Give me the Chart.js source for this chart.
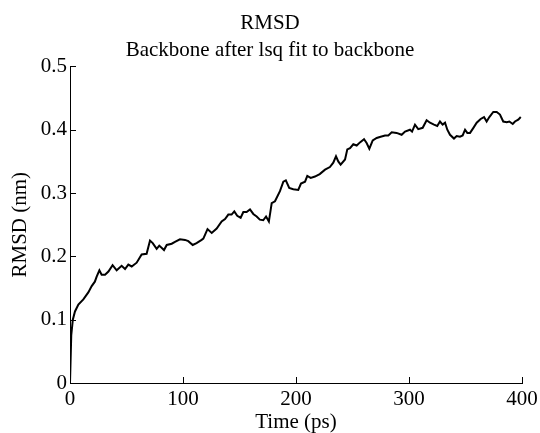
<!DOCTYPE html>
<html>
<head>
<meta charset="utf-8">
<script src="https://cdn.jsdelivr.net/npm/chart.js@4"></script>
<style>
    html, body { margin: 0; padding: 0; background: #fff; }
    #wrap { width: 540px; height: 433px; }
</style>
</head>
<body>
<div id="wrap"><canvas id="rmsdChart"></canvas></div>
<script>
// Datos: tiempo (ps) y RMSD (nm)
const times = [0, 1.1, 2.5, 4.4, 7.4, 11.8, 16.2, 19.2, 22, 23.6, 26, 28, 31, 34, 37.7, 41.3, 45.7, 48.7, 51.6, 54.6,
    59, 63.4, 67.8, 70.8, 73.2, 76.7, 79, 83.2, 85.6, 90, 92.9, 97.3, 101.8, 104.7, 108.6, 112, 116.5, 118, 121.7, 125.4,
    129.8, 134.2, 137.2, 140.1, 143, 145.4, 148, 151, 153.4, 156.3, 159.3, 162.2, 165.2, 168, 171, 173.5, 176, 178.5, 181.4, 185.8,
    188.8, 191, 194, 197.6, 202, 204.4, 208, 210, 213, 216.8, 221, 225.7, 230, 233, 235.4, 237.4, 239.5, 243.4, 245.4, 247.8,
    250.7, 253.7, 256.6, 260.2, 262.5, 264.9, 267.9, 271.4, 274.9, 278.8, 281.7, 284.7, 289, 293.5, 296.5, 300.9, 302.7, 305.3, 308.2, 312.1,
    315.6, 318.6, 322.1, 325, 327.4, 329.8, 331.9, 333.9, 336.3, 339.8, 342.2, 345.1, 347.5, 349.6, 351.6, 354, 357, 359.9,
    363.4, 366.4, 368.7, 371.1, 374.6, 377.6, 380.5, 383.4, 386.5, 388.8, 391.8, 393.8, 396.7, 398.9];
const rmsd = [0, 0.075, 0.1, 0.113, 0.124, 0.132, 0.143, 0.153, 0.16, 0.168, 0.178, 0.171, 0.171, 0.176, 0.186, 0.178, 0.185, 0.18, 0.187, 0.184,
    0.19, 0.203, 0.204, 0.225, 0.221, 0.212, 0.217, 0.21, 0.218, 0.22, 0.223, 0.227, 0.226, 0.224, 0.218, 0.221, 0.226, 0.228, 0.243, 0.237,
    0.244, 0.255, 0.259, 0.266, 0.266, 0.271, 0.264, 0.261, 0.27, 0.27, 0.274, 0.267, 0.263, 0.258, 0.257, 0.263, 0.255, 0.284, 0.287, 0.303,
    0.318, 0.32, 0.308, 0.306, 0.305, 0.315, 0.318, 0.327, 0.324, 0.326, 0.33, 0.337, 0.341, 0.348, 0.358, 0.35, 0.345, 0.353, 0.369, 0.371,
    0.377, 0.375, 0.38, 0.385, 0.379, 0.37, 0.383, 0.387, 0.389, 0.391, 0.391, 0.396, 0.395, 0.392, 0.397, 0.4, 0.397, 0.408, 0.401, 0.403,
    0.415, 0.411, 0.408, 0.406, 0.413, 0.408, 0.411, 0.4, 0.392, 0.386, 0.39, 0.389, 0.391, 0.4, 0.395, 0.395, 0.403, 0.411,
    0.417, 0.42, 0.413, 0.42, 0.428, 0.428, 0.424, 0.413, 0.412, 0.413, 0.409, 0.413, 0.416, 0.42];

// Marcas de los ejes
const xTicks = [0, 100, 200, 300, 400];
const yTicks = [0, 0.1, 0.2, 0.3, 0.4, 0.5];

Chart.defaults.font.family = "'Liberation Serif', 'DejaVu Serif', serif";
Chart.defaults.font.size = 21;
Chart.defaults.color = '#000';

// Dibuja las marquitas hacia dentro del área del gráfico
const innerTicks = {
    id: 'innerTicks',
    afterDraw(chart) {
        const ctx = chart.ctx;
        const x = chart.scales.x;
        const y = chart.scales.y;
        ctx.save();
        ctx.strokeStyle = '#000';
        ctx.lineWidth = 1;
        ctx.beginPath();
        xTicks.forEach(v => {
            const px = Math.round(x.getPixelForValue(v)) + 0.5;
            ctx.moveTo(px, y.bottom);
            ctx.lineTo(px, y.bottom - 6);
        });
        yTicks.forEach(v => {
            const py = Math.round(y.getPixelForValue(v)) + 0.5;
            ctx.moveTo(x.left, py);
            ctx.lineTo(x.left + 6, py);
        });
        ctx.stroke();
        ctx.restore();
    }
};

const points = times.map((t, i) => ({ x: t, y: rmsd[i] }));

new Chart(document.getElementById('rmsdChart'), {
    type: 'line',
    data: {
        datasets: [{
            data: points,
            borderColor: '#000',
            borderWidth: 2,
            pointRadius: 0,
            tension: 0,
            fill: false
        }]
    },
    options: {
        responsive: true,
        maintainAspectRatio: false,
        animation: false,
        layout: { padding: { left: 0, right: 0, top: 0, bottom: 0 } },
        plugins: {
            legend: { display: false },
            tooltip: { enabled: false },
            title: {
                display: true,
                text: 'RMSD',
                font: { size: 21, weight: 'normal' },
                padding: { top: 11, bottom: 2 }
            },
            subtitle: {
                display: true,
                text: 'Backbone after lsq fit to backbone',
                color: '#000',
                font: { size: 21 },
                padding: { top: 0, bottom: 3 }
            }
        },
        scales: {
            x: {
                type: 'linear',
                min: 0,
                max: 400,
                afterBuildTicks: s => { s.ticks = xTicks.map(v => ({ value: v })); },
                afterFit: s => {
                    s.height = 50;
                    s.paddingLeft = 0;
                    s.paddingRight = 18; // margen derecho del área de trazado
                },
                grid: { display: false, drawTicks: false },
                border: { display: true, color: '#000', width: 1 },
                ticks: { padding: 4, maxRotation: 0 },
                title: { display: true, text: 'Time (ps)', padding: { top: -2, bottom: -2 } }
            },
            y: {
                min: 0,
                max: 0.5,
                afterBuildTicks: s => { s.ticks = yTicks.map(v => ({ value: v })); },
                afterFit: s => { s.width = 70; },
                grid: { display: false, drawTicks: false },
                border: { display: true, color: '#000', width: 1 },
                ticks: { padding: 3, callback: v => String(v) },
                title: { display: true, text: 'RMSD (nm)', padding: { top: 8, bottom: 0 } }
            }
        }
    },
    plugins: [innerTicks]
});
</script>
</body>
</html>
